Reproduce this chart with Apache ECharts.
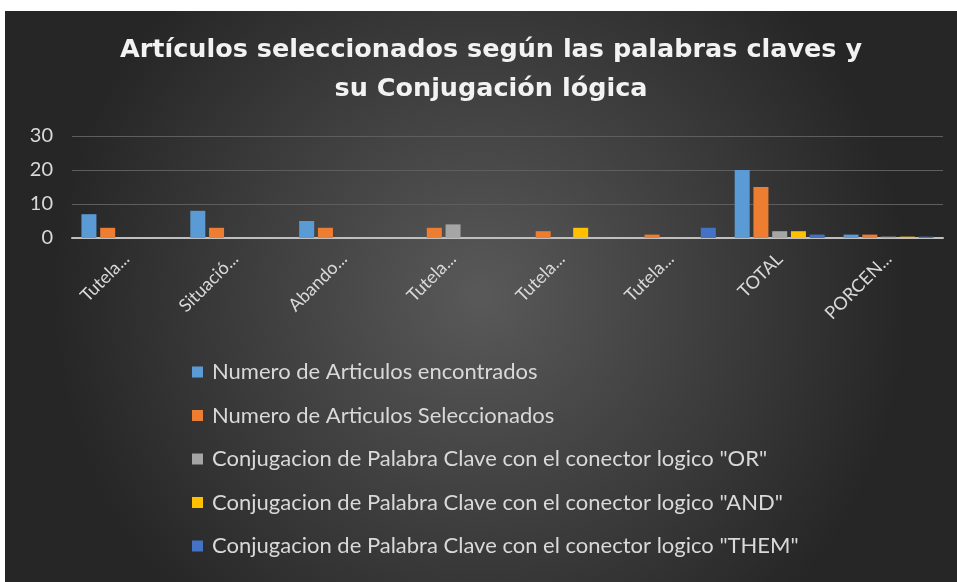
<!DOCTYPE html>
<html>
<head>
<meta charset="utf-8">
<script src="https://cdn.jsdelivr.net/npm/echarts@6/dist/echarts.min.js"></script>
<style>
  html, body { margin: 0; padding: 0; background: #ffffff; }
  #chart { position: absolute; left: 5px; top: 11px; width: 952px; height: 571px; }
</style>
</head>
<body>
<div id="chart"></div>
<script>
// categorias (truncadas como en el original)
const categories = ['Tutela...', 'Situació...', 'Abando...', 'Tutela...', 'Tutela...', 'Tutela...', 'TOTAL', 'PORCEN...'];
const yTicks = [0, 10, 20, 30];

const seriesNames = [
  'Numero de Articulos encontrados',
  'Numero de Articulos Seleccionados',
  'Conjugacion de Palabra Clave con el conector logico "OR"',
  'Conjugacion de Palabra Clave con el conector logico "AND"',
  'Conjugacion de Palabra Clave con el conector logico "THEM"'
];
const encontrados   = [7, 8, 5, 0, 0, 0, 20, 1];
const seleccionados = [3, 3, 3, 3, 2, 1, 15, 1];
const conectorOR    = [0, 0, 0, 4, 0, 0, 2, 0.4];
const conectorAND   = [0, 0, 0, 0, 3, 0, 2, 0.4];
const conectorTHEM  = [0, 0, 0, 0, 0, 3, 1, 0.4];
const colors = ['#5B9BD5', '#ED7D31', '#A5A5A5', '#FFC000', '#4472C4'];

const chart = echarts.init(document.getElementById('chart'));
const allValues = [encontrados, seleccionados, conectorOR, conectorAND, conectorTHEM];

const option = {
  backgroundColor: {
    type: 'radial', x: 0.5, y: 0.5, r: 0.75,
    colorStops: [
      { offset: 0, color: '#595959' },
      { offset: 1, color: '#262626' }
    ]
  },
  color: colors,
  title: {
    text: 'Artículos seleccionados según las palabras claves y\nsu Conjugación lógica',
    left: 481,
    top: 15,
    textAlign: 'center',
    textStyle: {
      color: '#f2f2f2',
      fontFamily: 'DejaVu Sans',
      fontWeight: 'bold',
      fontSize: 25.5,
      lineHeight: 39
    }
  },
  grid: { left: 67, right: 14, top: 125, bottom: 344 },
  legend: {
    orient: 'vertical',
    left: 187,
    top: 350,
    padding: 0,
    itemWidth: 11,
    itemHeight: 11,
    itemGap: 21.5,
    icon: 'rect',
    textStyle: { color: '#d9d9d9', fontFamily: 'Lato', fontSize: 22, padding: [0, 0, 0, 4] },
    data: seriesNames
  },
  xAxis: {
    type: 'category',
    data: categories,
    axisLine: { lineStyle: { color: '#bfbfbf', width: 2 } },
    axisTick: { show: false },
    axisLabel: {
      color: '#d9d9d9', fontFamily: 'Lato', fontSize: 18,
      rotate: 45, interval: 0, margin: 18
    }
  },
  yAxis: {
    type: 'value',
    min: yTicks[0],
    max: yTicks[yTicks.length - 1],
    interval: 10,
    axisLine: { show: false },
    axisTick: { show: false },
    axisLabel: { color: '#d9d9d9', fontFamily: 'Lato', fontSize: 20, margin: 19 },
    splitLine: { lineStyle: { color: '#5e5e5e', width: 1 } }
  },
  series: seriesNames.map((name, i) => ({
    name: name,
    type: 'bar',
    data: allValues[i],
    barWidth: 15,
    barGap: '25%',
    itemStyle: { color: colors[i] }
  }))
};
chart.setOption(option);
</script>
</body>
</html>
